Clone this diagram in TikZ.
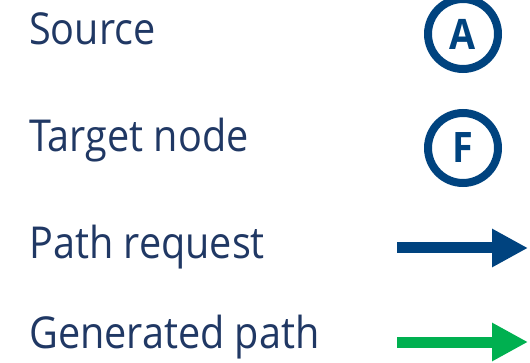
\documentclass[tikz,border=0pt]{standalone}
\usepackage{fontspec}
\setmainfont{Open Sans}[FakeStretch=0.9]
\usepackage{xcolor}
\usetikzlibrary{positioning,arrows.meta}
\definecolor{textnavy}{HTML}{203864}
\definecolor{ringblue}{HTML}{00437F}
\definecolor{pathgreen}{HTML}{00B050}

\tikzset{
  legendtext/.style={anchor=base west, inner sep=0pt, text=textnavy, font=\fontsize{44}{44}\selectfont},
  legendnode/.style={circle, draw=ringblue, line width=8pt, minimum size=70pt, inner sep=0pt,
    text=ringblue, font=\fontsize{42}{42}\selectfont\bfseries},
  legendarrow/.style={line width=11pt, -{Triangle[length=36pt,width=36pt]}}
}

\begin{document}
\begin{tikzpicture}[x=1pt, y=-1pt]
        \useasboundingbox (0,0) rectangle (530,363);

        % Labels
        \node[legendtext] (src) at (29,45) {Source};
        \node[legendtext] (tgt) at (29,152) {Target node};
        \node[legendtext] (req) at (29,259) {Path request};
        \node[legendtext] (gen) at (29,348) {Generated path};

        % Node symbols
        \node[legendnode] (nodeA) at (463,34) {A};
        \node[legendnode] (nodeF) at (463,148) {F};

        % Arrow symbols
        \coordinate (reqstart) at (397,248);
        \coordinate (reqend) at (528,248);
        \coordinate (genstart) at (397,342);
        \coordinate (genend) at (528,342);
        \draw[legendarrow, ringblue] (reqstart) -- (reqend);
        \draw[legendarrow, pathgreen] (genstart) -- (genend);
    \end{tikzpicture}
\end{document}
